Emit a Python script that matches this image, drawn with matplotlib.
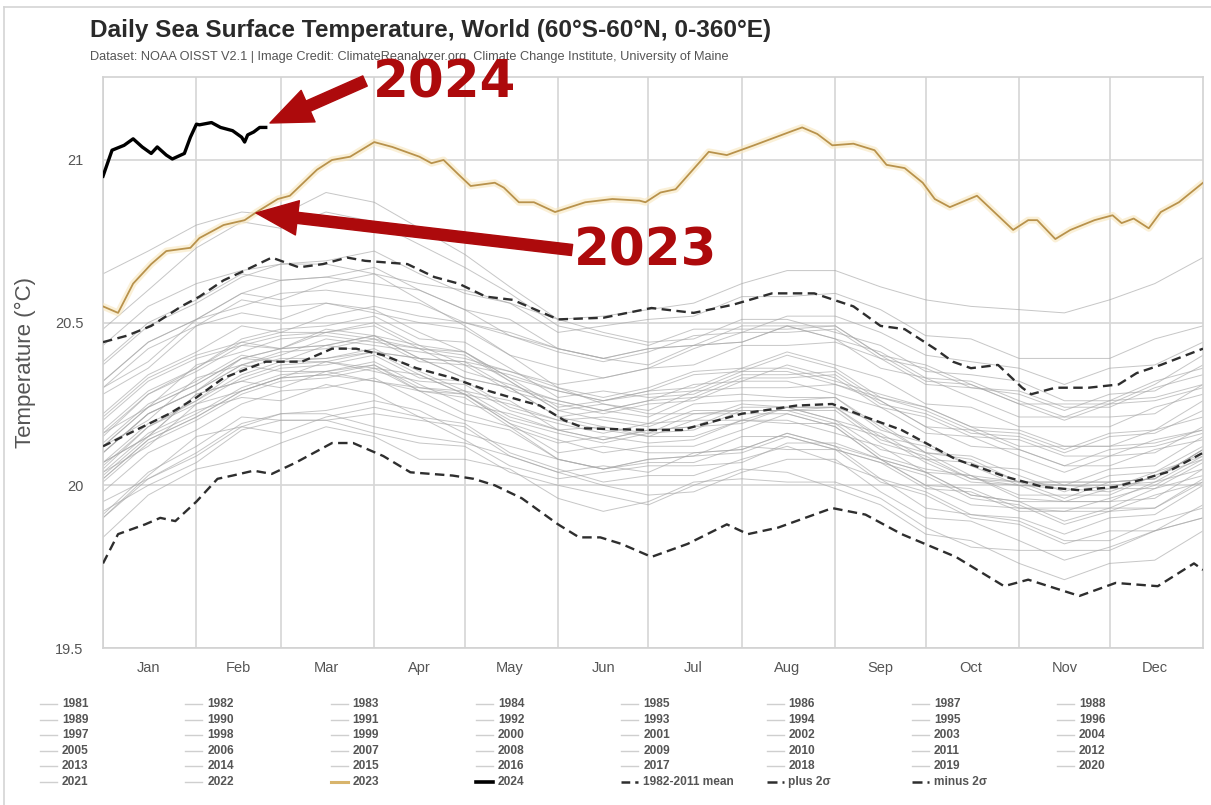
import matplotlib
matplotlib.use("Agg")
import matplotlib.pyplot as plt
from matplotlib.lines import Line2D

plt.rcParams["font.family"] = ["Liberation Sans", "DejaVu Sans"]

# --- data -------------------------------------------------------------------
month_names = ["Jan", "Feb", "Mar", "Apr", "May", "Jun",
               "Jul", "Aug", "Sep", "Oct", "Nov", "Dec"]
month_starts = [0, 31, 59, 90, 120, 151, 181, 212, 243, 273, 304, 334]
month_mids = [15, 45, 74, 105, 135, 166, 196, 227, 258, 288, 319, 349]

# semi-monthly sample days used for the historical years
sample_days = [0, 15, 31, 46, 59, 74, 90, 105, 120, 135, 151, 166, 181,
               196, 212, 227, 243, 258, 273, 288, 304, 319, 334, 349, 365]

daily_sst = {
    1981: [19.95, 20.02, 20.10, 20.19, 20.22, 20.22, 20.18, 20.15, 20.13, 20.09, 20.04, 20.00, 19.97,
           19.98, 20.04, 20.08, 20.08, 19.98, 19.90, 19.89, 19.83, 19.77, 19.81, 19.86, 19.90],
    1982: [19.90, 20.03, 20.15, 20.18, 20.16, 20.21, 20.24, 20.21, 20.14, 20.06, 20.02, 20.04, 20.06,
           20.06, 20.07, 20.13, 20.13, 20.08, 20.00, 19.94, 19.93, 19.92, 19.96, 20.00, 20.08],
    1983: [20.10, 20.22, 20.29, 20.39, 20.38, 20.38, 20.36, 20.34, 20.28, 20.19, 20.10, 20.12, 20.10,
           20.10, 20.11, 20.16, 20.12, 20.02, 19.98, 19.91, 19.89, 19.83, 19.83, 19.89, 19.93],
    1984: [19.92, 20.00, 20.07, 20.17, 20.20, 20.20, 20.16, 20.13, 20.12, 20.04, 20.00, 19.97, 19.94,
           20.00, 20.05, 20.04, 19.99, 19.94, 19.85, 19.83, 19.76, 19.71, 19.76, 19.77, 19.86],
    1985: [19.84, 19.97, 20.05, 20.08, 20.13, 20.18, 20.15, 20.08, 20.08, 20.05, 19.96, 19.92, 19.95,
           20.01, 20.02, 20.01, 20.01, 19.96, 19.87, 19.81, 19.80, 19.80, 19.80, 19.86, 19.90],
    1986: [19.91, 20.04, 20.12, 20.21, 20.20, 20.20, 20.22, 20.20, 20.18, 20.09, 20.04, 20.06, 20.04,
           20.10, 20.11, 20.16, 20.12, 20.08, 20.00, 19.99, 19.93, 19.93, 19.93, 19.99, 20.03],
    1987: [20.05, 20.18, 20.26, 20.36, 20.39, 20.39, 20.41, 20.39, 20.33, 20.30, 20.21, 20.23, 20.21,
           20.27, 20.28, 20.27, 20.27, 20.17, 20.13, 20.06, 20.00, 20.00, 20.00, 20.01, 20.09],
    1988: [20.10, 20.22, 20.29, 20.37, 20.35, 20.35, 20.37, 20.29, 20.22, 20.18, 20.08, 20.05, 20.07,
           20.07, 20.12, 20.11, 20.11, 20.01, 19.97, 19.90, 19.88, 19.82, 19.86, 19.86, 19.94],
    1989: [19.90, 20.02, 20.09, 20.18, 20.22, 20.23, 20.26, 20.23, 20.16, 20.12, 20.08, 20.05, 20.08,
           20.09, 20.15, 20.15, 20.11, 20.07, 20.03, 19.96, 19.94, 19.88, 19.92, 19.97, 20.01],
    1990: [20.02, 20.14, 20.21, 20.29, 20.33, 20.38, 20.35, 20.32, 20.31, 20.23, 20.19, 20.16, 20.19,
           20.20, 20.20, 20.24, 20.24, 20.14, 20.10, 20.03, 20.01, 20.01, 20.01, 20.02, 20.11],
    1991: [20.06, 20.18, 20.25, 20.33, 20.37, 20.38, 20.41, 20.34, 20.28, 20.25, 20.20, 20.17, 20.15,
           20.15, 20.20, 20.19, 20.19, 20.09, 20.05, 20.03, 19.96, 19.95, 19.99, 19.99, 20.07],
    1992: [20.04, 20.16, 20.23, 20.27, 20.26, 20.31, 20.28, 20.21, 20.19, 20.10, 20.05, 20.01, 20.03,
           20.03, 20.08, 20.12, 20.07, 20.02, 19.93, 19.91, 19.90, 19.85, 19.90, 19.91, 20.00],
    1993: [19.98, 20.10, 20.17, 20.25, 20.29, 20.30, 20.33, 20.26, 20.20, 20.17, 20.08, 20.05, 20.08,
           20.09, 20.10, 20.15, 20.11, 20.07, 19.99, 19.98, 19.92, 19.92, 19.92, 19.93, 20.02],
    1994: [20.01, 20.13, 20.20, 20.28, 20.32, 20.33, 20.36, 20.29, 20.28, 20.20, 20.16, 20.13, 20.16,
           20.17, 20.23, 20.23, 20.24, 20.15, 20.12, 20.06, 20.05, 20.00, 20.05, 20.06, 20.15],
    1995: [20.13, 20.25, 20.32, 20.40, 20.38, 20.39, 20.42, 20.35, 20.29, 20.26, 20.17, 20.14, 20.17,
           20.18, 20.19, 20.24, 20.20, 20.11, 20.08, 20.02, 20.01, 19.96, 20.01, 20.02, 20.11],
    1996: [20.07, 20.15, 20.28, 20.32, 20.30, 20.35, 20.32, 20.29, 20.27, 20.18, 20.13, 20.15, 20.13,
           20.14, 20.20, 20.20, 20.16, 20.12, 20.04, 20.03, 19.97, 19.97, 19.97, 20.03, 20.10],
    1997: [20.07, 20.19, 20.26, 20.34, 20.38, 20.43, 20.41, 20.39, 20.38, 20.35, 20.31, 20.33, 20.36,
           20.42, 20.47, 20.52, 20.52, 20.47, 20.40, 20.38, 20.36, 20.31, 20.36, 20.37, 20.44],
    1998: [20.43, 20.55, 20.62, 20.66, 20.68, 20.68, 20.65, 20.57, 20.49, 20.40, 20.30, 20.25, 20.22,
           20.22, 20.22, 20.22, 20.18, 20.08, 20.04, 19.97, 19.95, 19.89, 19.93, 19.93, 20.01],
    1999: [20.02, 20.14, 20.21, 20.29, 20.33, 20.34, 20.32, 20.30, 20.28, 20.19, 20.14, 20.10, 20.12,
           20.12, 20.17, 20.22, 20.18, 20.08, 20.04, 19.97, 19.95, 19.95, 19.95, 19.96, 20.05],
    2000: [20.03, 20.15, 20.22, 20.30, 20.34, 20.35, 20.38, 20.31, 20.25, 20.22, 20.17, 20.14, 20.17,
           20.18, 20.24, 20.24, 20.20, 20.16, 20.08, 20.07, 20.01, 20.01, 20.01, 20.02, 20.11],
    2001: [20.12, 20.20, 20.33, 20.37, 20.41, 20.42, 20.45, 20.38, 20.37, 20.29, 20.25, 20.22, 20.25,
           20.26, 20.32, 20.32, 20.28, 20.24, 20.16, 20.15, 20.09, 20.04, 20.09, 20.10, 20.18],
    2002: [20.16, 20.28, 20.35, 20.43, 20.46, 20.47, 20.50, 20.43, 20.37, 20.34, 20.29, 20.26, 20.29,
           20.30, 20.36, 20.36, 20.32, 20.28, 20.24, 20.18, 20.17, 20.12, 20.12, 20.17, 20.21],
    2003: [20.21, 20.33, 20.40, 20.44, 20.47, 20.47, 20.45, 20.42, 20.35, 20.31, 20.26, 20.23, 20.26,
           20.31, 20.32, 20.37, 20.33, 20.24, 20.21, 20.15, 20.14, 20.09, 20.09, 20.14, 20.17],
    2004: [20.16, 20.24, 20.37, 20.41, 20.45, 20.46, 20.44, 20.42, 20.40, 20.32, 20.23, 20.25, 20.23,
           20.29, 20.30, 20.30, 20.31, 20.26, 20.18, 20.12, 20.11, 20.06, 20.11, 20.12, 20.16],
    2005: [20.15, 20.28, 20.36, 20.45, 20.48, 20.49, 20.52, 20.45, 20.44, 20.36, 20.27, 20.29, 20.27,
           20.28, 20.34, 20.34, 20.35, 20.26, 20.18, 20.17, 20.11, 20.06, 20.06, 20.11, 20.14],
    2006: [20.12, 20.24, 20.31, 20.39, 20.42, 20.43, 20.46, 20.39, 20.38, 20.30, 20.26, 20.23, 20.26,
           20.27, 20.33, 20.33, 20.34, 20.25, 20.22, 20.16, 20.15, 20.10, 20.15, 20.16, 20.23],
    2007: [20.20, 20.32, 20.39, 20.43, 20.42, 20.48, 20.46, 20.39, 20.33, 20.30, 20.21, 20.18, 20.16,
           20.22, 20.23, 20.23, 20.19, 20.15, 20.07, 20.01, 20.00, 19.95, 19.95, 20.01, 20.05],
    2008: [20.04, 20.12, 20.25, 20.29, 20.33, 20.34, 20.37, 20.30, 20.29, 20.21, 20.17, 20.18, 20.15,
           20.20, 20.25, 20.24, 20.24, 20.19, 20.10, 20.08, 20.01, 20.00, 19.99, 20.04, 20.09],
    2009: [20.10, 20.22, 20.29, 20.37, 20.40, 20.45, 20.43, 20.41, 20.39, 20.35, 20.30, 20.27, 20.30,
           20.35, 20.36, 20.41, 20.37, 20.33, 20.25, 20.24, 20.18, 20.18, 20.18, 20.24, 20.28],
    2010: [20.30, 20.42, 20.49, 20.57, 20.55, 20.56, 20.54, 20.47, 20.41, 20.32, 20.23, 20.20, 20.18,
           20.23, 20.23, 20.23, 20.23, 20.13, 20.09, 20.02, 20.00, 19.99, 19.98, 20.03, 20.08],
    2011: [20.07, 20.15, 20.28, 20.32, 20.36, 20.37, 20.40, 20.33, 20.32, 20.24, 20.20, 20.21, 20.19,
           20.25, 20.26, 20.26, 20.27, 20.18, 20.10, 20.09, 20.03, 19.98, 20.03, 20.04, 20.12],
    2012: [20.12, 20.24, 20.31, 20.39, 20.42, 20.43, 20.46, 20.43, 20.41, 20.33, 20.29, 20.26, 20.29,
           20.34, 20.35, 20.40, 20.36, 20.27, 20.24, 20.18, 20.12, 20.12, 20.12, 20.13, 20.17],
    2013: [20.17, 20.29, 20.36, 20.44, 20.42, 20.47, 20.49, 20.42, 20.41, 20.33, 20.24, 20.26, 20.28,
           20.29, 20.35, 20.35, 20.31, 20.27, 20.23, 20.17, 20.16, 20.11, 20.16, 20.17, 20.26],
    2014: [20.22, 20.34, 20.41, 20.49, 20.47, 20.52, 20.55, 20.52, 20.50, 20.46, 20.41, 20.38, 20.41,
           20.46, 20.47, 20.47, 20.48, 20.39, 20.36, 20.30, 20.29, 20.24, 20.24, 20.30, 20.34],
    2015: [20.32, 20.44, 20.51, 20.59, 20.57, 20.62, 20.65, 20.62, 20.60, 20.56, 20.51, 20.52, 20.54,
           20.56, 20.62, 20.66, 20.66, 20.61, 20.57, 20.55, 20.54, 20.53, 20.57, 20.62, 20.70],
    2016: [20.65, 20.72, 20.80, 20.84, 20.83, 20.90, 20.87, 20.79, 20.71, 20.61, 20.51, 20.47, 20.44,
           20.45, 20.51, 20.51, 20.47, 20.43, 20.35, 20.34, 20.32, 20.26, 20.26, 20.32, 20.36],
    2017: [20.38, 20.50, 20.57, 20.65, 20.63, 20.64, 20.67, 20.60, 20.54, 20.51, 20.42, 20.39, 20.42,
           20.43, 20.44, 20.49, 20.45, 20.36, 20.33, 20.27, 20.21, 20.21, 20.21, 20.22, 20.31],
    2018: [20.28, 20.36, 20.49, 20.53, 20.51, 20.56, 20.53, 20.50, 20.48, 20.40, 20.36, 20.33, 20.36,
           20.37, 20.43, 20.43, 20.44, 20.39, 20.31, 20.30, 20.28, 20.23, 20.28, 20.29, 20.37],
    2019: [20.37, 20.49, 20.56, 20.64, 20.68, 20.69, 20.72, 20.65, 20.59, 20.56, 20.47, 20.49, 20.51,
           20.52, 20.58, 20.58, 20.59, 20.54, 20.46, 20.45, 20.39, 20.39, 20.39, 20.45, 20.49],
    2020: [20.48, 20.60, 20.73, 20.81, 20.79, 20.84, 20.81, 20.74, 20.67, 20.59, 20.49, 20.46, 20.43,
           20.48, 20.48, 20.48, 20.49, 20.40, 20.32, 20.31, 20.25, 20.20, 20.25, 20.26, 20.30],
    2021: [20.30, 20.38, 20.51, 20.55, 20.59, 20.60, 20.58, 20.56, 20.50, 20.47, 20.42, 20.39, 20.42,
           20.43, 20.49, 20.49, 20.45, 20.41, 20.33, 20.32, 20.26, 20.21, 20.26, 20.27, 20.31],
    2022: [20.32, 20.44, 20.51, 20.59, 20.63, 20.64, 20.62, 20.60, 20.54, 20.46, 20.42, 20.39, 20.37,
           20.43, 20.44, 20.49, 20.49, 20.40, 20.37, 20.31, 20.25, 20.25, 20.25, 20.31, 20.40],
}

days_2023 = [0, 5, 10, 16, 21, 29, 32, 40, 47, 51, 58, 62, 71, 76, 82, 90, 96, 105, 109, 113,
             118, 122, 130, 133, 138, 143, 150, 160, 169, 178, 180, 185, 190, 201, 207, 216, 229,
             232, 237, 242, 249, 256, 260, 266, 272, 276, 281, 290, 302, 307, 310, 316, 321, 329,
             335, 338, 342, 347, 351, 357, 365]
sst_2023 = [20.55, 20.53, 20.62, 20.68, 20.72, 20.73, 20.76, 20.80, 20.815, 20.84, 20.88, 20.89,
            20.97, 21.00, 21.01, 21.055, 21.04, 21.01, 20.99, 21.00, 20.955, 20.92, 20.93, 20.915,
            20.87, 20.87, 20.84, 20.87, 20.88, 20.875, 20.87, 20.90, 20.91, 21.025, 21.015, 21.045,
            21.09, 21.10, 21.08, 21.045, 21.05, 21.03, 20.985, 20.975, 20.93, 20.88, 20.855, 20.89,
            20.785, 20.815, 20.815, 20.757, 20.785, 20.815, 20.83, 20.806, 20.82, 20.79, 20.84,
            20.87, 20.93]

days_2024 = [0, 3, 7, 10, 13, 16, 18, 21, 23, 27, 29, 31, 32, 36, 39, 43, 46, 47, 48, 50, 52, 54]
sst_2024 = [20.95, 21.03, 21.045, 21.065, 21.04, 21.02, 21.04, 21.015, 21.003, 21.02, 21.07,
            21.11, 21.108, 21.115, 21.10, 21.09, 21.07, 21.055, 21.077, 21.086, 21.10, 21.10]

days_mean = [0, 11, 22, 31, 40, 54, 66, 76, 84, 93, 104, 116, 128, 139, 145, 153, 160, 182,
             192, 212, 230, 242, 253, 265, 283, 300, 312, 324, 336, 353, 363, 365]
sst_mean = [20.12, 20.17, 20.22, 20.27, 20.33, 20.38, 20.38, 20.42, 20.42, 20.40, 20.36, 20.33,
            20.29, 20.26, 20.245, 20.20, 20.175, 20.17, 20.17, 20.22, 20.245, 20.25, 20.21, 20.17,
            20.08, 20.025, 19.995, 19.985, 19.995, 20.04, 20.09, 20.10]

days_plus = [0, 8, 16, 26, 32, 40, 47, 56, 65, 73, 81, 87, 101, 110, 118, 127, 136, 151, 166,
             182, 196, 209, 222, 236, 249, 258, 266, 276, 282, 288, 297, 305, 308, 316, 327, 337,
             343, 351, 365]
sst_plus = [20.44, 20.46, 20.49, 20.55, 20.58, 20.63, 20.66, 20.70, 20.67, 20.68, 20.70, 20.69,
            20.68, 20.64, 20.62, 20.58, 20.57, 20.51, 20.515, 20.545, 20.53, 20.555, 20.59, 20.59,
            20.55, 20.49, 20.48, 20.42, 20.38, 20.36, 20.37, 20.30, 20.28, 20.30, 20.30, 20.31,
            20.345, 20.37, 20.42]

days_minus = [0, 5, 14, 19, 24, 31, 38, 43, 50, 56, 64, 76, 83, 93, 102, 116, 123, 130, 139,
              151, 158, 165, 172, 182, 194, 207, 214, 224, 242, 253, 265, 283, 299, 307, 324, 336,
              350, 362, 365]
sst_minus = [19.76, 19.85, 19.88, 19.90, 19.89, 19.95, 20.02, 20.03, 20.045, 20.035, 20.07, 20.13,
             20.13, 20.09, 20.04, 20.03, 20.02, 20.00, 19.96, 19.88, 19.84, 19.84, 19.82, 19.78,
             19.82, 19.88, 19.85, 19.87, 19.93, 19.91, 19.85, 19.78, 19.69, 19.71, 19.66, 19.70,
             19.69, 19.76, 19.74]

W, H = 1211, 805


def fx(px):
    return px / W


def fy(py):
    return 1 - py / H


grey = "#a8a8a8"
gold = "#b8924c"
dash_col = "#2e2e2e"
red = "#ad0a0c"
mean_style = (0, (3.5, 2.0))
sigma_style = (0, (4.0, 2.3))

fig = plt.figure(figsize=(W / 100, H / 100), dpi=100)
ax = fig.add_axes([fx(103), fy(648), fx(1203) - fx(103), fy(77) - fy(648)])

for year, vals in daily_sst.items():
    ax.plot(sample_days, vals, color=grey, lw=0.7, alpha=0.65, zorder=2)

ax.plot(days_mean, sst_mean, color=dash_col, lw=1.7, ls=mean_style, zorder=3)
ax.plot(days_plus, sst_plus, color=dash_col, lw=1.7, ls=sigma_style, zorder=3)
ax.plot(days_minus, sst_minus, color=dash_col, lw=1.7, ls=sigma_style, zorder=3)

# 2023 gets a soft halo under the line
ax.plot(days_2023, sst_2023, color="#f8e6bd", lw=5, alpha=0.6, solid_capstyle="round", zorder=4)
ax.plot(days_2023, sst_2023, color=gold, lw=1.3, zorder=5)
ax.plot(days_2024, sst_2024, color="black", lw=2.4, zorder=6)

ax.set_xlim(0, 365)
ax.set_ylim(19.5, 21.255)
ax.set_yticks([19.5, 20, 20.5, 21], ["19.5", "20", "20.5", "21"])
ax.set_xticks(month_mids, month_names)
ax.set_xticks(month_starts, minor=True)
ax.tick_params(which="both", length=0)
ax.tick_params(axis="y", labelsize=10.5, labelcolor="#555555", pad=14)
ax.tick_params(axis="x", labelsize=10.5, labelcolor="#555555", pad=9)
ax.grid(which="minor", axis="x", color="#d6d6d6", lw=1.2)
ax.grid(which="major", axis="y", color="#d6d6d6", lw=1.2)
ax.grid(which="major", axis="x", visible=False)
ax.set_axisbelow(True)
for spine in ax.spines.values():
    spine.set_color("#d2d2d2")
    spine.set_linewidth(1.2)
ax.set_ylabel("Temperature (°C)", fontsize=16, color="#555555", labelpad=14)

fig.text(fx(90), fy(30), "Daily Sea Surface Temperature, World (60°S-60°N, 0-360°E)",
         fontsize=17.6, fontweight="bold", color="#2a2a2a", va="center")
fig.text(fx(90), fy(57), "Dataset: NOAA OISST V2.1 | Image Credit: ClimateReanalyzer.org, "
         "Climate Change Institute, University of Maine",
         fontsize=9.2, color="#555555", va="center")

# thin frame along the top and left of the image
fig.add_artist(Line2D([fx(4), 1], [fy(7), fy(7)], color="#d4d4d4", lw=1.2))
fig.add_artist(Line2D([fx(4), fx(4)], [fy(7), 0], color="#d4d4d4", lw=1.2))

# callouts
arrow = dict(arrowstyle="simple,head_length=0.75,head_width=0.62,tail_width=0.2",
             color=red, mutation_scale=40, shrinkA=0, shrinkB=0)
ax.annotate("", xy=(fx(270), fy(123)), xytext=(fx(365), fy(81)),
            xycoords="figure fraction", textcoords="figure fraction", arrowprops=arrow, zorder=8)
ax.annotate("", xy=(fx(256), fy(213)), xytext=(fx(572), fy(250)),
            xycoords="figure fraction", textcoords="figure fraction", arrowprops=arrow, zorder=8)
fig.text(fx(445), fy(98), "2024", fontsize=37, fontweight="bold", family="DejaVu Sans",
         color=red, ha="center", va="baseline", zorder=9)
fig.text(fx(646), fy(265), "2023", fontsize=37, fontweight="bold", family="DejaVu Sans",
         color=red, ha="center", va="baseline", zorder=9)

# legend laid out row by row on an even grid
labels = [str(y) for y in range(1981, 2025)] + ["1982-2011 mean", "plus 2σ", "minus 2σ"]
for i, label in enumerate(labels):
    row, col = divmod(i, 8)
    x0 = 40 + 145.3 * col
    y0 = 704 + 15.5 * row
    if label == "2023":
        style = dict(color="#d8b46c", lw=2.2)
    elif label == "2024":
        style = dict(color="black", lw=2.6)
    elif label == "1982-2011 mean":
        style = dict(color=dash_col, lw=1.8, ls=mean_style)
    elif label.endswith("2σ"):
        style = dict(color=dash_col, lw=1.8, ls=(0, (4.0, 2.0, 1.2, 2.0)))
    else:
        style = dict(color="#cfcfcf", lw=1.0)
    fig.add_artist(Line2D([fx(x0), fx(x0 + 17)], [fy(y0), fy(y0)], **style))
    fig.text(fx(x0 + 22), fy(y0), label, fontsize=8.6, fontweight="bold",
             color="#555555", va="center")

fig.savefig("out.png", dpi=100, facecolor="white")
